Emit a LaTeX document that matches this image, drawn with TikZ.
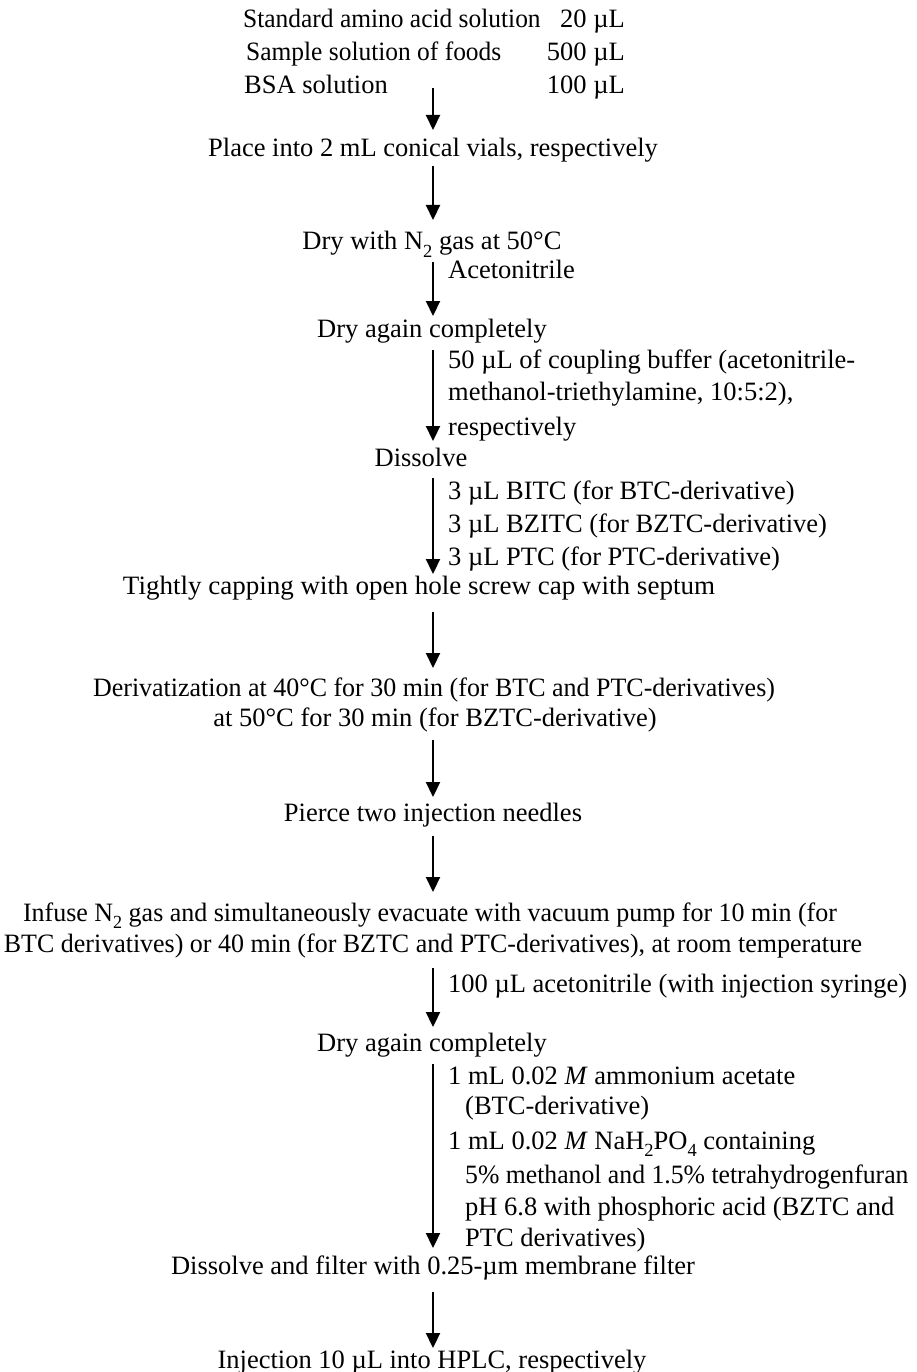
\documentclass[tikz,border=0pt]{standalone}
\usepackage{fontspec}
\setmainfont{Liberation Serif}
\usetikzlibrary{arrows.meta}
\newcommand\lowsub[1]{\raisebox{-0.28em}{\fontsize{18.5}{18.5}\selectfont #1}}
\tikzset{
  txt/.style={inner sep=0pt, anchor=base, font=\fontsize{26.5}{32.5}\selectfont},
  lbl/.style={txt, anchor=base west},
  rgt/.style={txt, anchor=base east},
  flow/.style={line width=2.2pt, -{Triangle[width=14pt,length=15pt]}},
}
\begin{document}
\begin{tikzpicture}[x=1pt,y=-1pt]
\useasboundingbox (0,0) rectangle (917,1372);
% starting materials and their volumes
\node[lbl] (s1) at (243,28) {\scalebox{0.96}[1]{Standard amino acid solution}};
\node[lbl] (s2) at (246,61) {\scalebox{0.96}[1]{Sample solution of foods}};
\node[lbl] (s3) at (244,94) {BSA solution};
\node[rgt] (v1) at (625,28) {20 µL};
\node[rgt] (v2) at (625,61) {500 µL};
\node[rgt] (v3) at (625,94) {100 µL};
\coordinate (a0) at (433,88);
% main steps
\node[txt] (p1) at (433,157) {Place into 2 mL conical vials, respectively};
\node[txt] (p2) at (432,250) {Dry with N\lowsub{2} gas at 50°C};
\node[txt] (p3) at (432,337) {Dry again completely};
\node[txt] (p4) at (421,466) {Dissolve};
\node[txt] (p5) at (419,594) {\scalebox{1.02}[1]{Tightly capping with open hole screw cap with septum}};
\node[txt] (p6a) at (434,696) {\scalebox{0.98}[1]{Derivatization at 40°C for 30 min (for BTC and PTC-derivatives)}};
\node[txt] (p6b) at (435,726) {at 50°C for 30 min (for BZTC-derivative)};
\node[txt] (p7) at (433,821) {Pierce two injection needles};
\node[txt] (p8a) at (430,921) {\scalebox{0.98}[1]{Infuse N\lowsub{2} gas and simultaneously evacuate with vacuum pump for 10 min (for}};
\node[txt] (p8b) at (433,952) {\scalebox{0.98}[1]{BTC derivatives) or 40 min (for BZTC and PTC-derivatives), at room temperature}};
\node[txt] (p9) at (432,1051) {Dry again completely};
\node[txt] (p10) at (433,1274) {Dissolve and filter with 0.25-µm membrane filter};
\node[txt] (p11) at (432,1368) {Injection 10 µL into HPLC, respectively};
% reagents added along the arrows
\node[lbl] (r2) at (448,278) {Acetonitrile};
\node[lbl] (r3a) at (448,368) {50 µL of coupling buffer (acetonitrile-};
\node[lbl] (r3b) at (448,400) {methanol-triethylamine, 10:5:2),};
\node[lbl] (r3c) at (448,435) {respectively};
\node[lbl] (r4a) at (448,499) {3 µL BITC (for BTC-derivative)};
\node[lbl] (r4b) at (448,532) {3 µL BZITC (for BZTC-derivative)};
\node[lbl] (r4c) at (448,565) {3 µL PTC (for PTC-derivative)};
\node[lbl] (r8) at (448,992) {100 µL acetonitrile (with injection syringe)};
\node[lbl] (r9a) at (448,1084) {1 mL 0.02 \textit{M} ammonium acetate};
\node[lbl] (r9b) at (465,1114) {(BTC-derivative)};
\node[lbl] (r9c) at (448,1149) {1 mL 0.02 \textit{M} NaH\lowsub{2}PO\lowsub{4} containing};
\node[lbl] (r9d) at (465,1183) {\scalebox{0.97}[1]{5\% methanol and 1.5\% tetrahydrogenfuran}};
\node[lbl] (r9e) at (465,1215) {pH 6.8 with phosphoric acid (BZTC and};
\node[lbl] (r9f) at (465,1246) {PTC derivatives)};
% arrows between the steps
\draw[flow] (a0) -- (a0 |- 0,130);
\draw[flow] (a0 |- 0,166) -- (a0 |- 0,220);
\draw[flow] (a0 |- 0,262) -- (a0 |- 0,316);
\draw[flow] (a0 |- 0,350) -- (a0 |- 0,441);
\draw[flow] (a0 |- 0,478) -- (a0 |- 0,574);
\draw[flow] (a0 |- 0,612) -- (a0 |- 0,668);
\draw[flow] (a0 |- 0,740) -- (a0 |- 0,797);
\draw[flow] (a0 |- 0,836) -- (a0 |- 0,892);
\draw[flow] (a0 |- 0,968) -- (a0 |- 0,1027);
\draw[flow] (a0 |- 0,1064) -- (a0 |- 0,1248);
\draw[flow] (a0 |- 0,1292) -- (a0 |- 0,1348);
\end{tikzpicture}
\end{document}
